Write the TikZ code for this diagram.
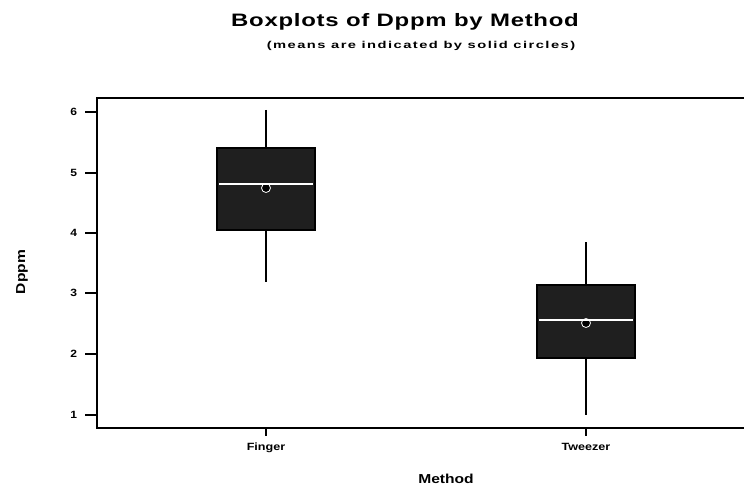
\documentclass[tikz,border=0pt]{standalone}
\usepackage{fontspec}
\setmainfont{Liberation Sans}
\begin{document}
\begin{tikzpicture}[x=1pt,y=-1pt,
  frame/.style={line width=2pt,black},
  tick/.style={line width=1.6pt,black},
  ticklab/.style={font=\bfseries\fontsize{10.5}{12}\selectfont,inner sep=1pt,xscale=1.15},
  catlab/.style={font=\bfseries\fontsize{10.5}{12}\selectfont,inner sep=1pt,xscale=1.2},
  axlab/.style={font=\bfseries\fontsize{13}{15}\selectfont,inner sep=1pt},
  boxfill/.style={fill=black!88,draw=black,line width=1.6pt},
  whisk/.style={line width=1.6pt,black},
  med/.style={draw=white,line width=1.2pt},
  meanpt/.style={circle,fill=black,draw=white,line width=0.8pt,inner sep=0pt,minimum size=9pt}]
\useasboundingbox (0,0) rectangle (744,492);
% title
\node[xscale=1.33] (title) at (405,22) {\bfseries\addfontfeature{LetterSpace=3}\fontsize{18}{20}\selectfont Boxplots of Dppm by Method};
\node[xscale=1.47] (sub) at (421,46) {\bfseries\addfontfeature{LetterSpace=10}\fontsize{10}{12}\selectfont (means are indicated by solid circles)};
% frame
\coordinate (tl) at (97,98);
\coordinate (bl) at (97,428);
\coordinate (tr) at (746,98);
\coordinate (br) at (746,428);
\draw[frame] (tr) -- (tl) -- (bl) -- (br);
% y ticks
\foreach \v/\yy in {6/112,5/173,4/233,3/293,2/354,1/415}{
  \coordinate (yt\v) at (97,\yy);
  \draw[tick] (yt\v) -- ++(-12,0) node[ticklab,left=5pt] (yl\v) {\v};
}
% x ticks
\coordinate (xf) at (266,428);
\coordinate (xt) at (586,428);
\draw[tick] (xf) -- ++(0,8) node[catlab,below=5pt] (lf) {Finger};
\draw[tick] (xt) -- ++(0,8) node[catlab,below=5pt] (lt) {Tweezer};
% axis labels
\node[axlab,xscale=1.2] (xlab) at (446,479) {Method};
\node[axlab,yscale=1.2,rotate=90] (ylab) at (22,272) {Dppm};
% Finger boxplot
\coordinate (fwt) at (266,110);
\coordinate (fwb) at (266,282);
\draw[whisk] (fwt) -- (fwb);
\draw[boxfill] (217,148) rectangle (315,230);
\node[meanpt] (fmean) at (266,188) {};
\draw[med] (219,184) -- (313,184);
% Tweezer boxplot
\coordinate (twt) at (586,242);
\coordinate (twb) at (586,415);
\draw[whisk] (twt) -- (twb);
\draw[boxfill] (537,285) rectangle (635,358);
\node[meanpt] (tmean) at (586,323) {};
\draw[med] (539,320) -- (633,320);
\end{tikzpicture}
\end{document}
